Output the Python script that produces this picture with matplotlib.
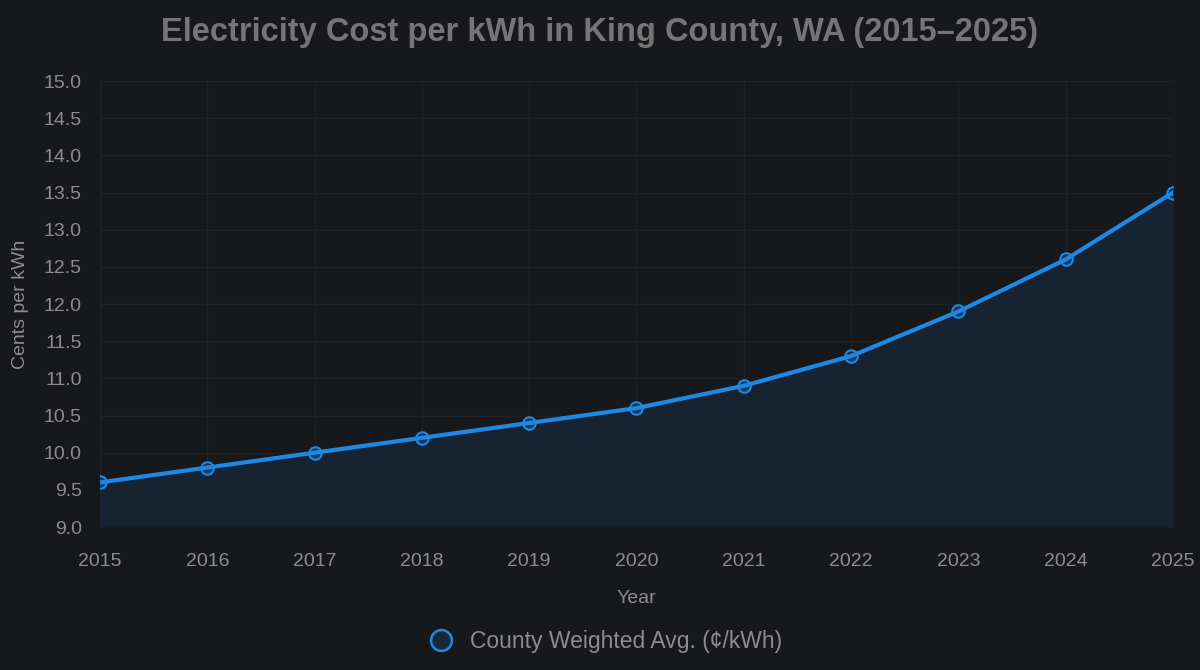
import matplotlib.pyplot as plt
from matplotlib.lines import Line2D

years = [2015, 2016, 2017, 2018, 2019, 2020, 2021, 2022, 2023, 2024, 2025]
cost = [9.6, 9.8, 10.0, 10.2, 10.4, 10.6, 10.9, 11.3, 11.9, 12.6, 13.5]
yticks = [9.0, 9.5, 10.0, 10.5, 11.0, 11.5, 12.0, 12.5, 13.0, 13.5, 14.0, 14.5, 15.0]

bg = "#17181b"
blue = "#1e88e5"
txt = "#8c8c8c"

plt.rcParams["font.family"] = ["Liberation Sans", "DejaVu Sans"]

fig = plt.figure(figsize=(12, 6.7), dpi=100, facecolor=bg)
ax = fig.add_axes([0.0833, 0.2134, 0.8942, 0.6656], facecolor=bg)

ax.fill_between(years, cost, 9.0, color="#172331", lw=0)
ax.plot(years, cost, color=blue, lw=3, zorder=3)
ax.plot(years, cost, ls="none", marker="o", ms=9, mfc=(0.12, 0.53, 0.9, 0.25),
        mec=blue, mew=1.5, zorder=4)

ax.set_xlim(2015, 2025)
ax.set_ylim(9.0, 15.0)
ax.set_xticks(years)
ax.set_yticks(yticks)
ax.set_yticklabels([f"{v:.1f}" for v in yticks])
ax.grid(True, color="#1f2125", lw=1)
ax.set_axisbelow(True)
for s in ax.spines.values():
    s.set_visible(False)
ax.tick_params(colors=txt, labelsize=14, length=0)
ax.tick_params(axis="x", pad=19)
ax.tick_params(axis="y", pad=13)

ax.set_xlabel("Year", color=txt, fontsize=14, labelpad=14)
ax.set_ylabel("Cents per kWh", color=txt, fontsize=14, labelpad=11)

fig.text(0.5, 0.952, "Electricity Cost per kWh in King County, WA (2015\u20132025)",
         ha="center", va="center", fontsize=23.5, fontweight="bold", color="#757575")

handle = Line2D([], [], ls="none", marker="o", ms=15, mfc=(0.12, 0.53, 0.9, 0.15),
                mec=blue, mew=1.8)
fig.legend([handle], ["County Weighted Avg. (\u00a2/kWh)"], loc="center",
           bbox_to_anchor=(0.5, 0.043), frameon=False, fontsize=16.5,
           labelcolor=txt, handletextpad=0.25)

fig.savefig("out.png", dpi=100, facecolor=bg)
